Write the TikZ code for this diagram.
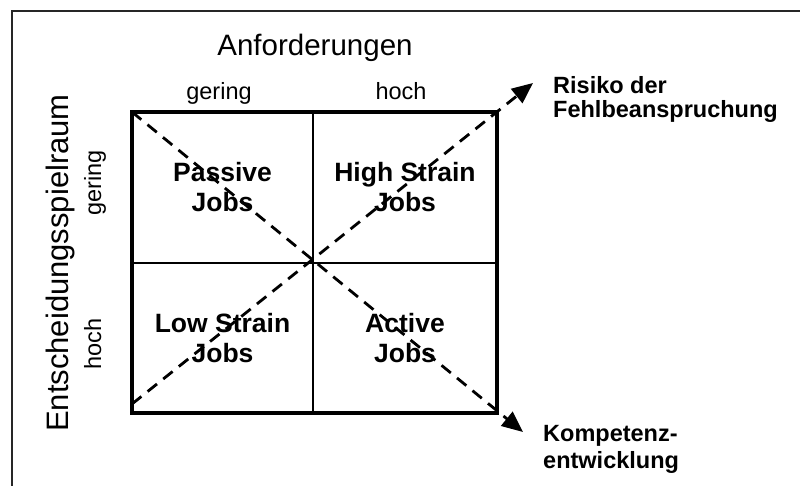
\documentclass[tikz,border=0pt]{standalone}
\usepackage{fontspec}
\setmainfont{Liberation Sans}
\usetikzlibrary{arrows.meta}
\begin{document}
\begin{tikzpicture}[x=1pt,y=-1pt,
  quad/.style={font=\fontsize{26.5}{30}\selectfont\bfseries, align=center, inner sep=0pt},
  axlabel/.style={font=\fontsize{23.5}{27}\selectfont, inner sep=0pt, anchor=base},
  axtitle/.style={font=\fontsize{29.5}{33}\selectfont, inner sep=0pt, anchor=base},
  outcomeA/.style={font=\fontsize{23.5}{24.5}\selectfont\bfseries, align=left, anchor=north west, inner sep=0pt},
  outcomeB/.style={font=\fontsize{23.5}{27}\selectfont\bfseries, align=left, anchor=north west, inner sep=0pt},
  diag/.style={line width=2.8pt, dash pattern=on 12pt off 8pt, -{Triangle[length=21pt,width=18pt]}},
]
\useasboundingbox (0,0) rectangle (800,486);
% outer frame (cropped)
\coordinate (fbl) at (12,490);
\coordinate (ftl) at (12,11);
\coordinate (ftr) at (804,11);
\draw[line width=1.6pt, black!85] (fbl) -- (ftl) -- (ftr);

% grid
\coordinate (tl) at (132,112);
\coordinate (br) at (497,413);
\coordinate (bl) at (132,413);
\coordinate (tr) at (497,112);
\coordinate (mt) at (313,112);
\coordinate (mb) at (313,413);
\coordinate (ml) at (132,263);
\coordinate (mr) at (497,263);
\draw[line width=2pt] (mt) -- (mb);
\draw[line width=2pt] (ml) -- (mr);
\draw[line width=3.5pt] (tl) rectangle (br);

% axis titles and labels
\node[axtitle] (anf) at (315,56) {Anforderungen};
\node[axlabel] (lowA) at (219,100) {gering};
\node[axlabel] (highA) at (401,100) {hoch};
\node[axtitle, rotate=90, font=\fontsize{31}{35}\selectfont] (ent) at (68,263) {Entscheidungsspielraum};
\node[axlabel, rotate=90] (lowE) at (101,183) {gering};
\node[axlabel, rotate=90] (highE) at (101,344) {hoch};

% quadrants
\node[quad] (passive) at (222.5,187.5) {Passive\\Jobs};
\node[quad] (highs) at (405,187.5) {High Strain\\Jobs};
\node[quad] (lows) at (222.5,338) {Low Strain\\Jobs};
\node[quad] (active) at (405,338) {Active\\Jobs};

% outcomes
\node[outcomeA] (risk) at (553,76) {Risiko der\\Fehlbeanspruchung};
\node[outcomeB] (komp) at (543,425) {Kompetenz-\\entwicklung};

% diagonals
\coordinate (dstart1) at (132,112);
\coordinate (tip1) at (523,432);
\coordinate (dstart2) at (132,404);
\coordinate (tip2) at (533,83);
\draw[diag] (dstart1) -- (tip1);
\draw[diag] (dstart2) -- (tip2);
\end{tikzpicture}
\end{document}
